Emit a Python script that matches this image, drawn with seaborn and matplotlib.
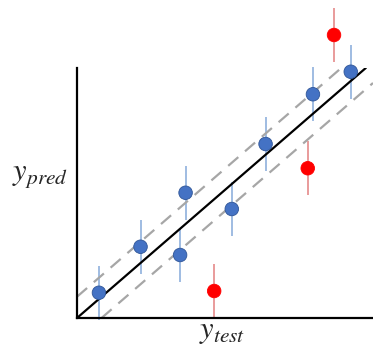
import matplotlib
matplotlib.use('Agg')
import matplotlib.pyplot as plt
import numpy as np
import pandas as pd
import seaborn as sns

sns.set_style('white')
plt.rcParams['mathtext.fontset'] = 'stix'

# Predictions that follow the ideal line (blue) and outliers (red)
good_test = [0.76, 2.20, 3.57, 3.76, 5.36, 6.53, 8.17, 9.48]
good_pred = [1.01, 2.85, 2.52, 5.01, 4.36, 6.96, 8.95, 9.85]
bad_test = [4.75, 7.99, 8.90]
bad_pred = [1.08, 5.99, 11.32]
err = 1.08
band = 0.85

df = pd.DataFrame({
    'y_test': good_test + bad_test,
    'y_pred': good_pred + bad_pred,
    'group': ['good'] * len(good_test) + ['bad'] * len(bad_test),
})

fig = plt.figure(figsize=(3.73, 3.47), dpi=100)
ax = fig.add_axes([77 / 373, 29 / 347, 296 / 373, 250 / 347])

# error bars behind the points
ax.errorbar(good_test, good_pred, yerr=err, fmt='none', ecolor='#8fb0dd',
            elinewidth=1.2, clip_on=False, zorder=1)
ax.errorbar(bad_test, bad_pred, yerr=err, fmt='none', ecolor='#e58a8a',
            elinewidth=1.2, clip_on=False, zorder=1)

# ideal line and tolerance band
xs = np.array([0, 10])
ax.plot(xs, xs, color='black', lw=1.6, zorder=2)
ax.plot([0, 9.45], [band, 9.45 + band], color='#a6a6a6', lw=1.6,
        dashes=(6, 4), zorder=2)
ax.plot([band, 10.25], [0, 10.25 - band], color='#a6a6a6', lw=1.6,
        dashes=(6, 4), zorder=2, clip_on=False)

sns.scatterplot(data=df, x='y_test', y='y_pred', hue='group',
                palette={'good': '#4472c4', 'bad': '#ff0000'},
                s=95, linewidth=0.6, edgecolor=None, legend=False,
                ax=ax, zorder=3, clip_on=False)
for coll in ax.collections:
    coll.set_clip_on(False)
ax.collections[-1].set_edgecolor(['#2f5597'] * len(good_test) + ['#ff0000'] * len(bad_test))

ax.set_xlim(0, 10.25)
ax.set_ylim(0, 10)
ax.set_xticks([])
ax.set_yticks([])
ax.set_xlabel('')
ax.set_ylabel('')
for side in ['top', 'right']:
    ax.spines[side].set_visible(False)
for side in ['left', 'bottom']:
    ax.spines[side].set_color('black')
    ax.spines[side].set_linewidth(1.6)

fig.text(40 / 373, 1 - 176 / 347, r'$y_{pred}$', fontsize=22,
         ha='center', va='center')
fig.text(222 / 373, 1 - 332 / 347, r'$y_{test}$', fontsize=22,
         ha='center', va='center')

fig.savefig('out.png', dpi=100)
plt.close()
